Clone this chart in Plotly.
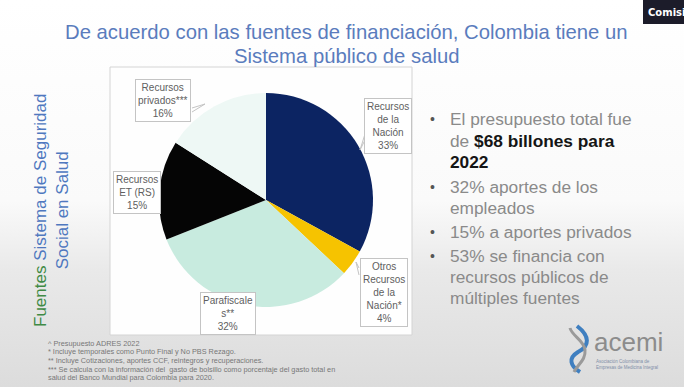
import plotly.graph_objects as go

# ---------------- data ----------------
slice_names = ["Recursos de la Nación", "Otros Recursos de la Nación*", "Parafiscales**",
               "Recursos ET (RS)", "Recursos privados***"]
slice_labels = ["Recursos<br>de la<br>Nación", "Otros<br>Recursos<br>de la<br>Nación*",
                "Parafiscale<br>s**", "Recursos<br>ET (RS)", "Recursos<br>privados***"]
slice_values = [33, 4, 32, 15, 16]
slice_colors = ["#0c2462", "#f6c300", "#c8ebdf", "#050505", "#eef8f5"]

title_lines = ["De acuerdo con las fuentes de financiación, Colombia tiene un",
               "Sistema público de salud"]
bullets = [
    ["El presupuesto total fue", "de <b>$68 billones para</b>", "<b>2022</b>"],
    ["32% aportes de los", "empleados"],
    ["15% a aportes privados"],
    ["53% se financia con", "recursos públicos de", "múltiples fuentes"],
]
footnotes = [
    "^ Presupuesto ADRES 2022",
    "* Incluye temporales como Punto Final y No PBS Rezago.",
    "** Incluye Cotizaciones, aportes CCF, reintegros y recuperaciones.",
    "*** Se calcula con la información del  gasto de bolsillo como porcentaje del gasto total en",
    "salud del Banco Mundial para Colombia para 2020.",
]

W, H = 684, 387
FONT = "Liberation Sans, Arial, sans-serif"

fig = go.Figure()

# background gradient (full slide)
fig.add_trace(go.Scatter(
    x=[0, W, W, 0, 0], y=[0, 0, H, H, 0], mode="lines", line=dict(width=0),
    fill="toself", hoverinfo="skip", showlegend=False,
    fillgradient=dict(type="vertical",
                      colorscale=[[0, "#dcdcdc"], [0.3, "#e9e9e9"], [0.48, "#fafafa"], [1, "#ffffff"]]),
))
# chart frame
fx0, fx1, fy0, fy1 = 110, 412, 67, 335
fig.add_trace(go.Scatter(
    x=[fx0, fx1, fx1, fx0, fx0], y=[fy0, fy0, fy1, fy1, fy0], mode="lines",
    line=dict(width=1, color="#d4d4d4"), fill="toself", fillcolor="#fefefe",
    hoverinfo="skip", showlegend=False,
))

# pie
cx, cy, r = 266, 200, 107
fig.add_trace(go.Pie(
    labels=slice_names, values=slice_values, sort=False, direction="clockwise",
    rotation=0, textinfo="none", hoverinfo="label+percent",
    marker=dict(colors=slice_colors, line=dict(width=0)),
    domain=dict(x=[(cx - r) / W, (cx + r) / W], y=[(H - cy - r) / H, (H - cy + r) / H]),
    showlegend=False,
))

annotations = []
# callout labels
callout_pos = [(388, 126), (384, 292), (228, 313), (137, 192), (163, 100)]
for lab, val, (px, py) in zip(slice_labels, slice_values, callout_pos):
    annotations.append(dict(
        x=px, y=py, xref="x", yref="y", text=f"{lab}<br>{val}%", showarrow=False,
        font=dict(family=FONT, size=10, color="#606060"), align="center",
        bgcolor="#ffffff", bordercolor="#c4c4c4", borderwidth=1, borderpad=2,
    ))

# title
for i, (t, yy) in enumerate(zip(title_lines, [32, 56])):
    annotations.append(dict(x=346, y=yy, xref="x", yref="y", text=t, showarrow=False,
                            font=dict(family=FONT, size=20.3, color="#5a7cbd")))

# vertical side title
annotations.append(dict(
    x=51, y=211, xref="x", yref="y", textangle=-90, showarrow=False, align="center",
    text="<span style='color:#3f8a45'>Fuentes</span> Sistema de Seguridad<br>Social en Salud",
    font=dict(family=FONT, size=17, color="#4f78bf"),
))

# bullets
line_y = [119, 141, 162, 187, 208, 232, 256, 277, 298]
k = 0
for group in bullets:
    for j, line in enumerate(group):
        if j == 0:
            annotations.append(dict(x=432, y=line_y[k], xref="x", yref="y", text="•",
                                    showarrow=False, xanchor="center",
                                    font=dict(family=FONT, size=14, color="#555555")))
        styled = line.replace("<b>", "<b><span style='color:#151515'>").replace("</b>", "</span></b>")
        annotations.append(dict(x=448, y=line_y[k], xref="x", yref="y", text=styled,
                                showarrow=False, xanchor="left",
                                font=dict(family=FONT, size=17.3, color="#8a8a8a")))
        k += 1

# footnotes
for i, fn in enumerate(footnotes):
    annotations.append(dict(x=46, y=343 + i * 8.7, xref="x", yref="y", text=fn,
                            showarrow=False, xanchor="left",
                            font=dict(family=FONT, size=7.3, color="#777777")))

# logo
annotations.append(dict(x=592, y=342, xref="x", yref="y", text="acemi", showarrow=False,
                        xanchor="left", font=dict(family=FONT, size=26, color="#8c8c8c")))
annotations.append(dict(x=594, y=364, xref="x", yref="y",
                        text="Asociación Colombiana de<br>Empresas de Medicina Integral",
                        showarrow=False, xanchor="left", align="left",
                        font=dict(family=FONT, size=4.5, color="#7f8fa8")))

# video overlay label
annotations.append(dict(x=646, y=12, xref="x", yref="y", text="<b>Comisi</b>", showarrow=False,
                        xanchor="left",
                        font=dict(family="DejaVu Sans", size=10, color="#ffffff")))

shapes = [
    dict(type="rect", xref="x", yref="y", x0=643, x1=684, y0=0, y1=24,
         fillcolor="#1c1c2a", line=dict(width=0), layer="above"),
    # callout tails
    dict(type="path", xref="x", yref="y", path="M 192 108 L 205 104 L 192 112",
         line=dict(color="#c4c4c4", width=1), layer="above"),
    dict(type="path", xref="x", yref="y", path="M 365 134 L 360 150 L 365 140",
         line=dict(color="#c4c4c4", width=1), layer="above"),
    dict(type="path", xref="x", yref="y", path="M 359 268 L 356 262 L 359 275",
         line=dict(color="#c4c4c4", width=1), layer="above"),
    # DNA icon
    dict(type="path", xref="x", yref="y",
         path="M 577 326 C 590 336, 590 346, 578 352 C 568 358, 570 366, 580 372",
         line=dict(color="#3f7fc0", width=4), layer="above"),
    dict(type="path", xref="x", yref="y",
         path="M 570 328 C 572 336, 584 340, 585 350 C 586 360, 578 364, 574 372",
         line=dict(color="#9a9a9a", width=3), layer="above"),
]

fig.update_layout(
    width=W, height=H, margin=dict(l=0, r=0, t=0, b=0),
    paper_bgcolor="#ffffff", plot_bgcolor="rgba(0,0,0,0)",
    xaxis=dict(range=[0, W], visible=False, fixedrange=True),
    yaxis=dict(range=[H, 0], visible=False, fixedrange=True),
    annotations=annotations, shapes=shapes, showlegend=False,
)

fig.write_html("out.html", config={"displayModeBar": False},
               post_script="document.body.style.margin='0';document.body.style.overflow='hidden';")
